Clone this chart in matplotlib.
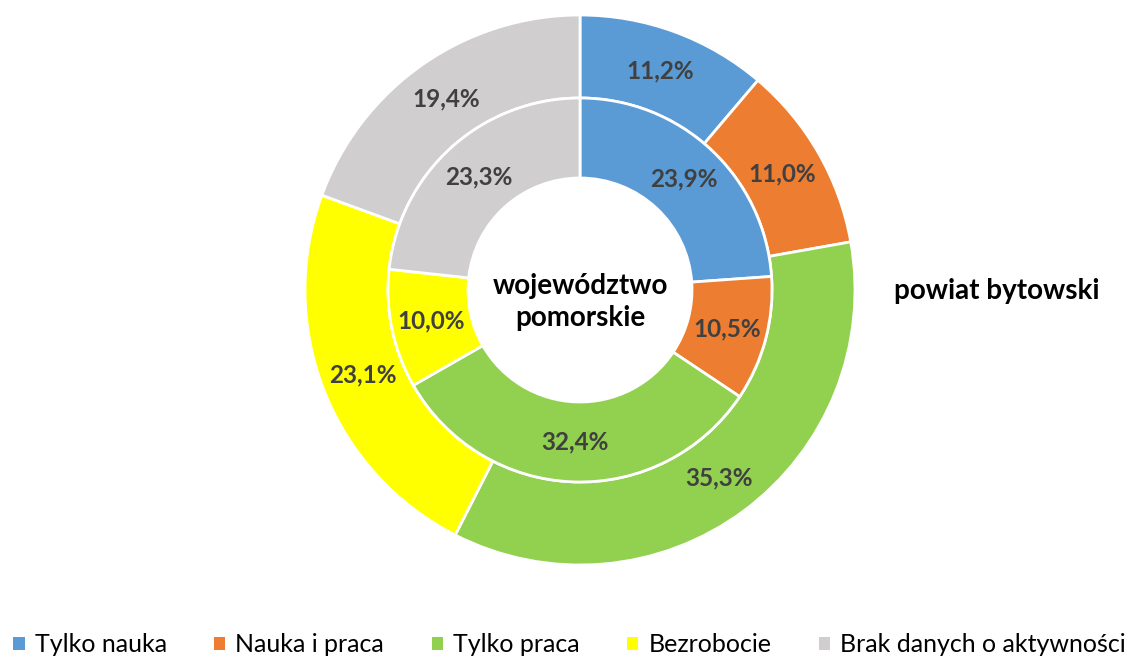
import numpy as np
import matplotlib
matplotlib.use('Agg')
import matplotlib.pyplot as plt
from matplotlib.patches import Patch

plt.rcParams['font.family'] = ['Lato', 'DejaVu Sans']

# DANE
kategorie = ['Tylko nauka', 'Nauka i praca', 'Tylko praca', 'Bezrobocie',
             'Brak danych o aktywności']
kolory = ['#5B9BD5', '#ED7D31', '#92D050', '#FFFF00', '#D0CECE']
pomorskie = [23.9, 10.5, 32.4, 10.0, 23.3]   # pierscien wewnetrzny
bytowski = [11.2, 11.0, 35.3, 23.1, 19.4]    # pierscien zewnetrzny

def etykieta(v):
    return ('%.1f%%' % v).replace('.', ',')

# WYKRES
W, H = 1139, 661
fig = plt.figure(figsize=(W/100, H/100), dpi=100)
ax = fig.add_axes([0, 0, 1, 1])

cx, cy = 580, H - 290
r_zew, r_sr, r_wew = 275, 192, 112

styl = dict(edgecolor='white', linewidth=2)
tekst = dict(fontsize=17.5, fontweight='bold', color='#404040')

# pierscien zewnetrzny - powiat bytowski
w1, t1 = ax.pie(bytowski, colors=kolory, radius=r_zew, center=(cx, cy),
                startangle=90, counterclock=False,
                wedgeprops=dict(width=r_zew - r_sr, **styl),
                labels=[etykieta(v) for v in bytowski],
                labeldistance=(r_zew + r_sr) / 2 / r_zew,
                textprops=tekst, frame=True)

# pierscien wewnetrzny - wojewodztwo pomorskie
w2, t2 = ax.pie(pomorskie, colors=kolory, radius=r_sr, center=(cx, cy),
                startangle=90, counterclock=False,
                wedgeprops=dict(width=r_sr - r_wew, **styl),
                labels=[etykieta(v) for v in pomorskie],
                labeldistance=(r_sr + r_wew) / 2 / r_sr,
                textprops=tekst, frame=True)
for t in t1 + t2:
    t.set_horizontalalignment('center')
    t.set_verticalalignment('center')

ax.set_xlim(0, W)
ax.set_ylim(0, H)
ax.set_aspect('equal')
ax.axis('off')

ax.text(cx, cy - 12, 'województwo\npomorskie', ha='center', va='center',
        fontsize=20, fontweight='bold', color='black', linespacing=1.25)
ax.text(997, H - 291, 'powiat bytowski', ha='center', va='center',
        fontsize=20, fontweight='bold', color='black')

uchwyty = [Patch(facecolor=k, edgecolor='none') for k in kolory]
fig.legend(uchwyty, kategorie, loc='center', ncol=5, frameon=False,
           fontsize=18, bbox_to_anchor=(0.5, 1 - 645 / H), handlelength=0.45,
           handleheight=0.45, handletextpad=0.4, columnspacing=1.9)

plt.savefig('out.png', dpi=100)
